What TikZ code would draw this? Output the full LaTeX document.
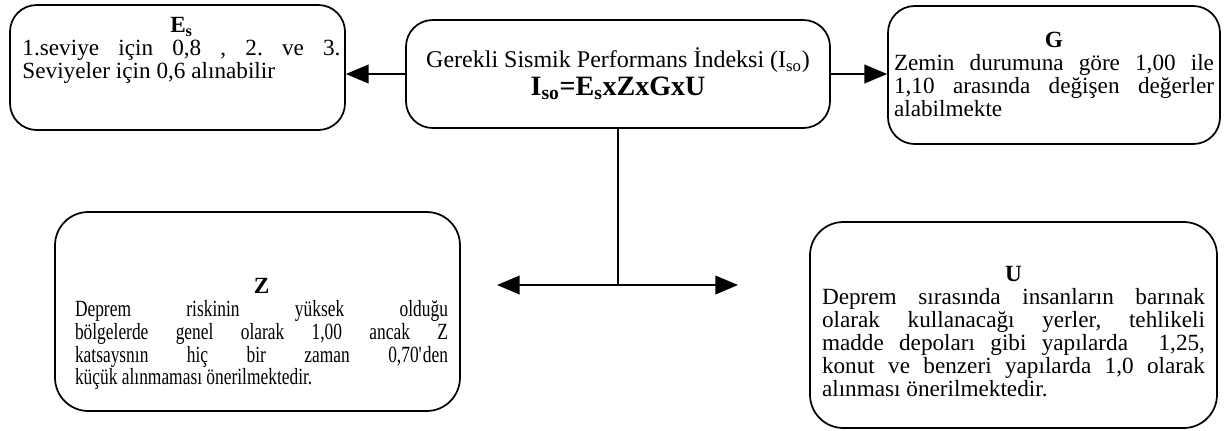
\documentclass[tikz,border=0pt]{standalone}
\usepackage{fontspec}
\setmainfont{Liberation Serif}
\newfontfamily\narrowfont[FakeStretch=0.75]{Liberation Serif}
\usetikzlibrary{arrows.meta,positioning}
\frenchspacing

\begin{document}
\begin{tikzpicture}[x = 0.75pt, y = -0.75pt,
    frame/.style = {draw, line width = 1.3pt, rounded corners = 20pt},
    boxtext/.style = {inner sep = 0pt, anchor = north, align = justify,
                      font = \fontsize{17.4}{17.2}\selectfont},
    post/.style = {line width = 1.3pt, -{Triangle[length = 17pt, width = 14pt]}}
  ]
    \path[use as bounding box] (0,0) rectangle (1229,430);

    % frames
    \node[frame, minimum width = 424*0.75pt, minimum height = 108*0.75pt,
          align = center] (Iso) at (618,74)
      {{\fontsize{18}{20}\selectfont Gerekli Sismik Performans İndeksi (I\textsubscript{so})}\\[2pt]
       {\fontsize{21}{22}\selectfont\bfseries I\textsubscript{so}=E\textsubscript{s}xZxGxU}};
    \node[frame, minimum width = 335*0.75pt, minimum height = 125*0.75pt] (Es) at (177.5,67.5) {};
    \node[frame, minimum width = 332*0.75pt, minimum height = 138*0.75pt] (G) at (1054,75) {};
    \node[frame, rounded corners = 25pt, minimum width = 405*0.75pt, minimum height = 199*0.75pt] (Z) at (257.5,311.5) {};
    \node[frame, rounded corners = 25pt, minimum width = 407*0.75pt, minimum height = 206*0.75pt] (U) at (1013.5,325) {};

    % texts
    \node[boxtext, text width = 318*0.75pt, below = 10pt of Es.north, xshift = 3pt] (EsText)
      {\centerline{\bfseries E\smash{\textsubscript{s}}}
       1.seviye için 0,8 , 2. ve 3.\linebreak Seviyeler için 0,6 alınabilir};
    \node[boxtext, text width = 320*0.75pt, below = 20pt of G.north] (GText)
      {\centerline{\bfseries G}
       Zemin durumuna göre 1,00 ile\linebreak 1,10 arasında değişen değerler\linebreak alabilmekte};
    \node[boxtext, text width = 373*0.75pt, below = 50pt of Z.north, xshift = 3pt] (ZText)
      {\centerline{\bfseries Z}
       {\narrowfont Deprem riskinin yüksek olduğu\linebreak bölgelerde genel olarak 1,00 ancak Z\linebreak
       katsaysnın hiç bir zaman 0,70\textquotesingle den\linebreak küçük alınmaması önerilmektedir.}};
    \node[boxtext, text width = 383*0.75pt, below = 34pt of U.north] (UText)
      {\centerline{\bfseries U}
       Deprem sırasında insanların barınak\linebreak olarak kullanacağı yerler, tehlikeli\linebreak
       madde depoları gibi yapılarda\ \ 1,25,\linebreak konut ve benzeri yapılarda 1,0 olarak\linebreak
       alınması önerilmektedir.};

    % connectors
    \coordinate (split) at (618,285);
    \coordinate (toZ) at (497,285);
    \coordinate (toU) at (738,285);

    \draw[post] (Iso.west) -- (Iso.west -| Es.east);
    \draw[post] (Iso.east) -- (Iso.east -| G.west);
    \draw[line width = 1.3pt] (Iso.south) -- (split);
    \draw[post] (split) -- (toZ);
    \draw[post] (split) -- (toU);

  \end{tikzpicture}
\end{document}
